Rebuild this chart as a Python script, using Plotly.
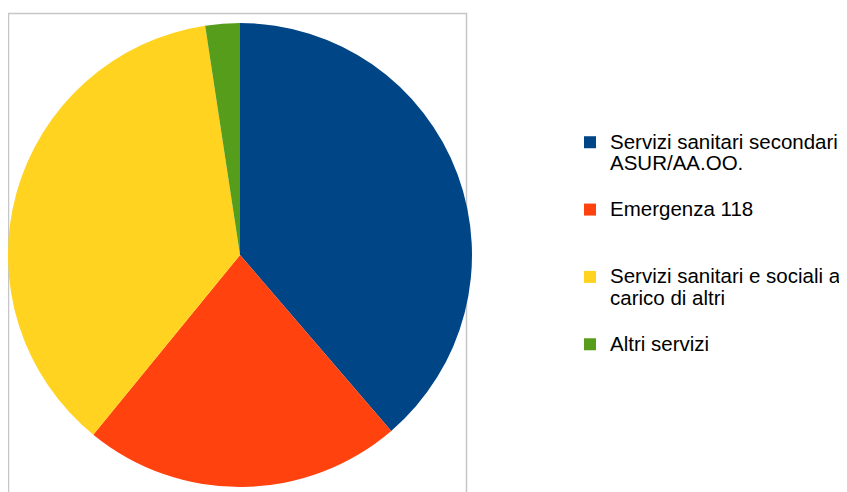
import plotly.graph_objects as go

labels = [
    "Servizi sanitari secondari<br>ASUR/AA.OO.",
    "Emergenza 118",
    "Servizi sanitari e sociali a<br>carico di altri",
    "Altri servizi",
]
values = [38.7, 22.2, 36.7, 2.4]
colors = ["#004586", "#ff420e", "#ffd320", "#579d1c"]

# the page body adds an 8px margin, so the figure is sized to fit the window
W, H = 839, 484
TEXT_PX = 20.5


def legend_label(text, n_lines=3):
    lines = text.split("<br>")
    parts = ['<span style="font-size:%gpx">%s</span>' % (TEXT_PX, ln) for ln in lines]
    while len(parts) < n_lines:
        parts.append(" ")
    return "<br>".join(parts)


fig = go.Figure()
fig.add_trace(go.Pie(
    labels=[legend_label(t) for t in labels],
    values=values,
    sort=False,
    direction="clockwise",
    rotation=0,
    textinfo="none",
    hovertemplate="%{value}%<extra></extra>",
    marker=dict(colors=colors, line=dict(width=0)),
    domain=dict(x=[0, 464 / W], y=[5 / H, 469 / H]),
))

fig.add_shape(
    type="rect", xref="paper", yref="paper",
    x0=0.5 / W, x1=458.5 / W, y0=-0.1, y1=1 - 5.5 / H,
    line=dict(color="#c6c6c6", width=1.5),
    fillcolor="rgba(0,0,0,0)", layer="below",
)

fig.update_layout(
    width=W, height=H,
    margin=dict(l=0, r=0, t=0, b=0, autoexpand=False),
    paper_bgcolor="white",
    plot_bgcolor="white",
    font=dict(family="Liberation Sans", size=18, color="#000000"),
    showlegend=True,
    legend=dict(
        x=562 / W, xanchor="left",
        y=1 - 117 / H, yanchor="top",
        valign="top",
        font=dict(family="Liberation Sans", size=16.5, color="#000000"),
        bgcolor="rgba(0,0,0,0)",
        borderwidth=0,
    ),
)

fig.write_html("out.html")
